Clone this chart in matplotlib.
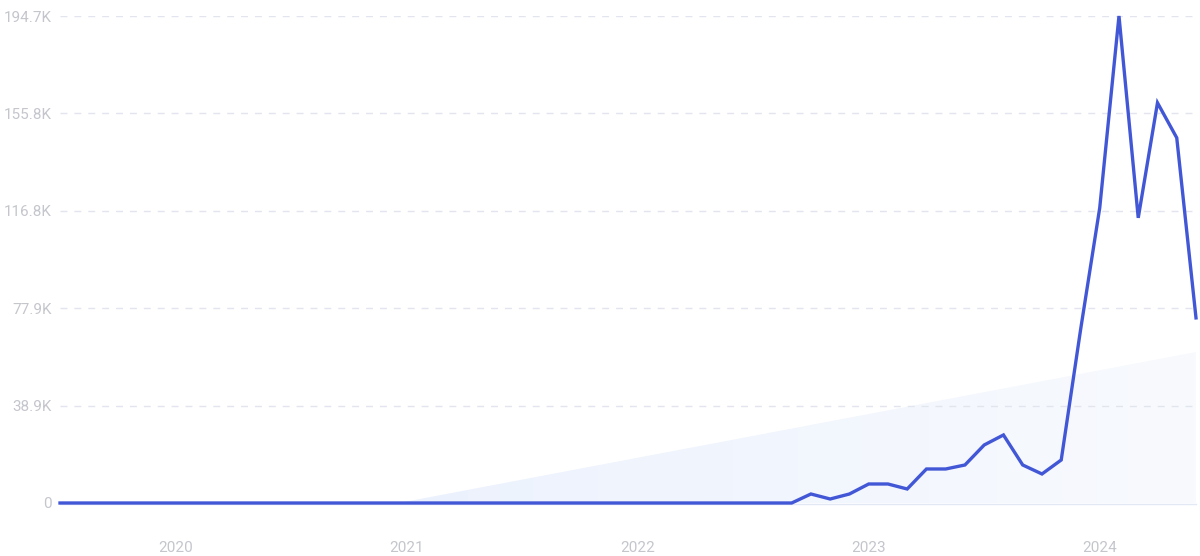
import numpy as np
import matplotlib
matplotlib.use("Agg")
import matplotlib.pyplot as plt
from matplotlib.colors import LinearSegmentedColormap

# ---- data (monthly, Jul 2019 .. Jun 2024) ----
start_year, start_month = 2019, 7
values_k = [0.0] * 39 + [
    3.6, 1.6, 3.6, 7.6, 7.6, 5.6, 13.6, 13.6, 15.2, 23.2, 27.2,
    15.2, 11.6, 17.2, 69.0, 118.0, 194.7, 114.0, 160.0, 146.0, 74.0,
]
ytick_values = [0, 38.9, 77.9, 116.8, 155.8, 194.7]
ytick_labels = ["0", "38.9K", "77.9K", "116.8K", "155.8K", "194.7K"]
xtick_years = [2020, 2021, 2022, 2023, 2024]

vals = np.array(values_k) * 1000.0
n = len(vals)
t0 = start_year + (start_month - 1) / 12.0
t = t0 + np.arange(n) / 12.0

# linear trend (regression), clipped at zero
coef = np.polyfit(np.arange(n), vals, 1)
x0_idx = -coef[1] / coef[0]
t_cross = t0 + x0_idx / 12.0
tt = np.concatenate([[t_cross], t[t > t_cross]])
tr = np.clip(np.polyval(coef, (tt - t0) * 12.0), 0, None)

fig = plt.figure(figsize=(12, 5.56), dpi=100)
ax = fig.add_axes([60 / 1200, 53 / 556, 1136 / 1200, 487 / 556])

ymax = ytick_values[-1] * 1000
ax.set_xlim(t[0], t[-1])
ax.set_ylim(0, ymax)

# gradient fill under trend
poly = ax.fill_between(tt, 0, tr, color="none", lw=0)
cmap = LinearSegmentedColormap.from_list(
    "g", [(236 / 255, 242 / 255, 253 / 255), (248 / 255, 250 / 255, 254 / 255)])
grad = np.linspace(0, 1, 256).reshape(1, -1)
im = ax.imshow(grad, cmap=cmap, aspect="auto", extent=[tt[0], t[-1], 0, ymax], zorder=1)
im.set_clip_path(poly.get_paths()[0], transform=ax.transData)

# dashed grid lines
for yv in ytick_values[1:]:
    ax.axhline(yv * 1000, color="#e2e5ee", lw=1, ls=(0, (5, 5)), zorder=2)

ax.plot(t, vals, color="#4257d6", lw=2.4, zorder=3, clip_on=False, solid_joinstyle="miter")

for s in ["top", "right", "left"]:
    ax.spines[s].set_visible(False)
ax.spines["bottom"].set_color("#e3e8f5")
ax.spines["bottom"].set_linewidth(1.0)
ax.spines["bottom"].set_position(("outward", 1))

ax.set_yticks([v * 1000 for v in ytick_values])
ax.set_yticklabels(ytick_labels)
ax.set_xticks(xtick_years)
ax.set_xticklabels([str(y) for y in xtick_years])
ax.tick_params(axis="both", length=0, colors="#c4c6cc", labelsize=11)
ax.tick_params(axis="x", pad=26)
ax.tick_params(axis="y", pad=6)
for lab in ax.get_xticklabels() + ax.get_yticklabels():
    lab.set_fontfamily("Roboto")

fig.savefig("out.png", dpi=100, facecolor="white")
